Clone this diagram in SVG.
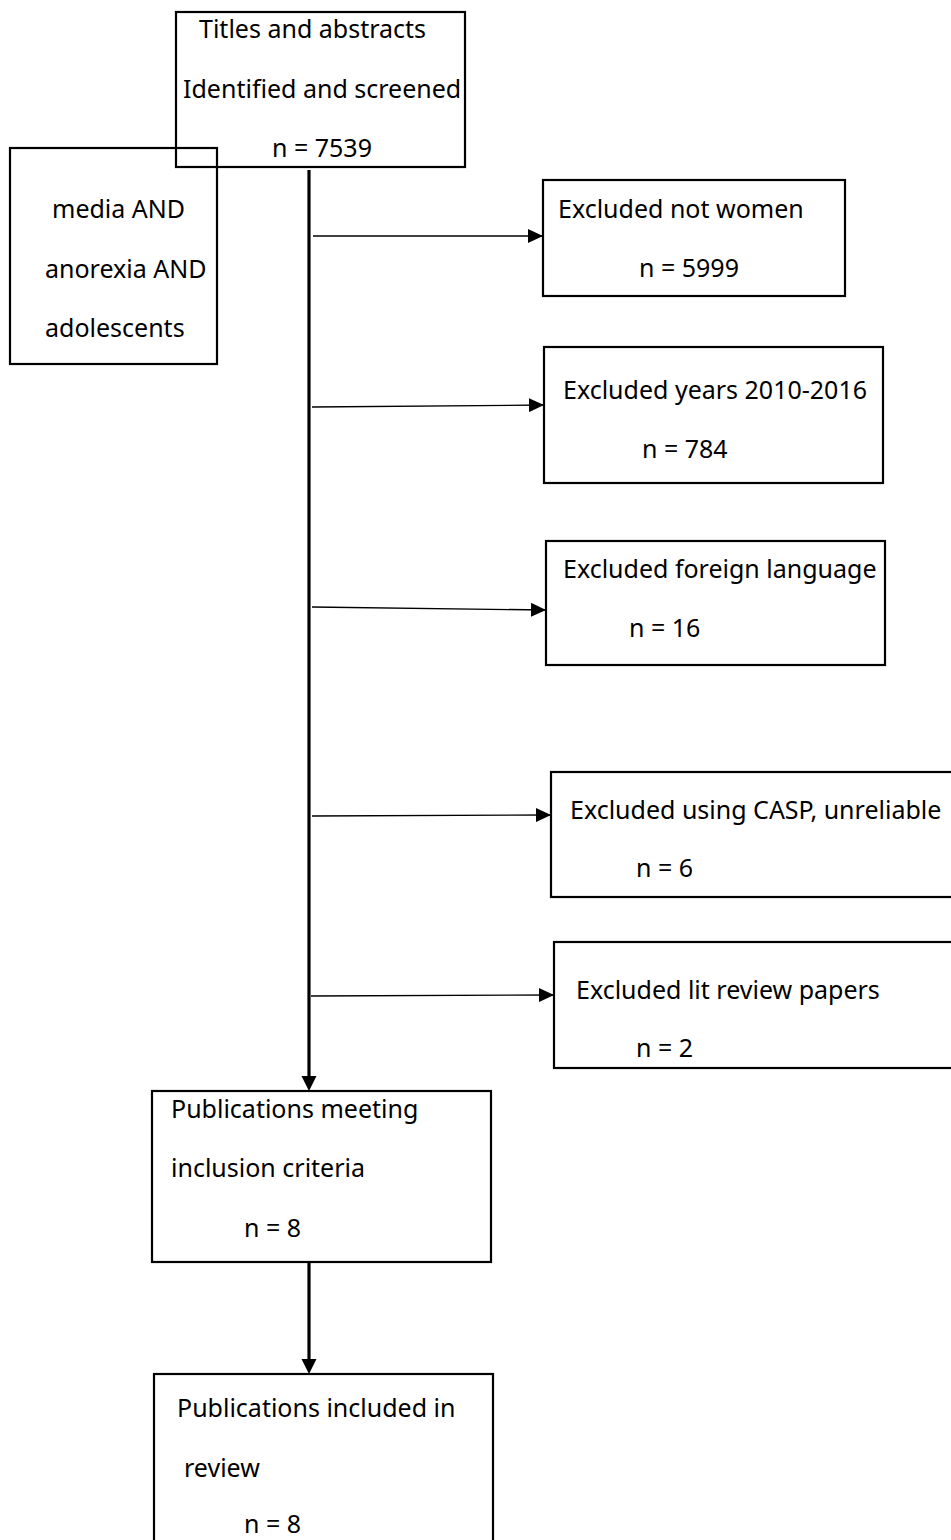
<svg xmlns="http://www.w3.org/2000/svg" width="951" height="1540" viewBox="0 0 951 1540">
<style>
.box{fill:none;stroke:#000;stroke-width:2.2}
.t{font-family:"Noto Sans","Open Sans",sans-serif;font-size:25px;fill:#000}
.thin{stroke:#000;stroke-width:1.3;fill:none}
.thick{stroke:#000;stroke-width:3.2;fill:none}
.head{fill:#000}
</style>
<defs>
<marker id="ah" markerUnits="userSpaceOnUse" markerWidth="16" markerHeight="14" refX="15" refY="7" orient="auto">
<path d="M0,0 L15,7 L0,14 Z" fill="#000"/>
</marker>
</defs>
<rect width="951" height="1540" fill="#fff"/>
<g id="connectors">
<line class="thick" x1="309" y1="170" x2="309" y2="1077"/>
<polygon class="head" points="301.5,1076 316.5,1076 309,1091"/>
<line class="thick" x1="309" y1="1262" x2="309" y2="1360"/>
<polygon class="head" points="301.5,1359 316.5,1359 309,1374"/>
<line class="thin" x1="313" y1="236" x2="543" y2="236" marker-end="url(#ah)"/>
<line class="thin" x1="312" y1="407" x2="544" y2="405" marker-end="url(#ah)"/>
<line class="thin" x1="312" y1="607" x2="546" y2="610" marker-end="url(#ah)"/>
<line class="thin" x1="312" y1="816" x2="551" y2="815" marker-end="url(#ah)"/>
<line class="thin" x1="311" y1="996" x2="554" y2="995" marker-end="url(#ah)"/>
</g>
<g id="node-titles">
<rect class="box" x="176" y="12" width="289" height="155"/>
<text class="t" x="199" y="38">Titles and abstracts</text>
<text class="t" x="183" y="98">Identified and screened</text>
<text class="t" x="272" y="157">n = 7539</text>
</g>
<g id="node-search">
<rect class="box" x="10" y="148" width="207" height="216"/>
<text class="t" x="52" y="218">media AND</text>
<text class="t" x="45" y="278">anorexia AND</text>
<text class="t" x="45" y="337">adolescents</text>
</g>
<g id="node-women">
<rect class="box" x="543" y="180" width="302" height="116"/>
<text class="t" x="558" y="218">Excluded not women</text>
<text class="t" x="639" y="277">n = 5999</text>
</g>
<g id="node-years">
<rect class="box" x="544" y="347" width="339" height="136"/>
<text class="t" x="563" y="399">Excluded years 2010-2016</text>
<text class="t" x="642" y="458">n = 784</text>
</g>
<g id="node-language">
<rect class="box" x="546" y="541" width="339" height="124"/>
<text class="t" x="563" y="578">Excluded foreign language</text>
<text class="t" x="629" y="637">n = 16</text>
</g>
<g id="node-casp">
<rect class="box" x="551" y="772" width="420" height="125"/>
<text class="t" x="570" y="819">Excluded using CASP, unreliable</text>
<text class="t" x="636" y="877">n = 6</text>
</g>
<g id="node-litreview">
<rect class="box" x="554" y="942" width="420" height="126"/>
<text class="t" x="576" y="999">Excluded lit review papers</text>
<text class="t" x="636" y="1057">n = 2</text>
</g>
<g id="node-meeting">
<rect class="box" x="152" y="1091" width="339" height="171"/>
<text class="t" x="171" y="1118">Publications meeting</text>
<text class="t" x="171" y="1177">inclusion criteria</text>
<text class="t" x="244" y="1237">n = 8</text>
</g>
<g id="node-included">
<rect class="box" x="154" y="1374" width="339" height="200"/>
<text class="t" x="177" y="1417">Publications included in</text>
<text class="t" x="184" y="1477">review</text>
<text class="t" x="244" y="1533">n = 8</text>
</g>
</svg>
